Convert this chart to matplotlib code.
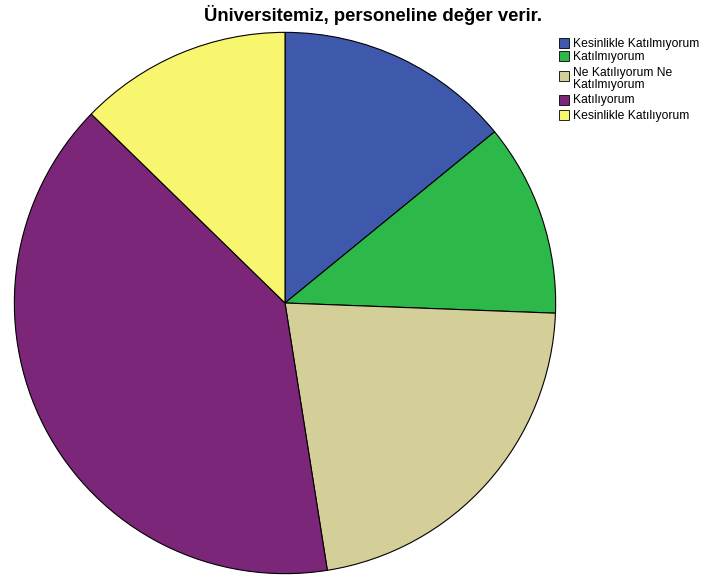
import matplotlib
matplotlib.use("Agg")
import matplotlib.pyplot as plt
from matplotlib.patches import Rectangle

labels = ["Kesinlikle Katılmıyorum", "Katılmıyorum", "Ne Katılıyorum Ne\nKatılmıyorum",
          "Katılıyorum", "Kesinlikle Katılıyorum"]
values = [14.1, 11.5, 21.9, 39.8, 12.7]
colors = ["#3e58ac", "#2db84a", "#d4ce99", "#7b2678", "#f8f56f"]
title = "Üniversitemiz, personeline değer verir."

W, H = 710, 575
fig = plt.figure(figsize=(W / 100, H / 100), dpi=100)
cx, cy, r = 285, 303, 272
ax = fig.add_axes([(cx - r) / W, (H - cy - r) / H, 2 * r / W, 2 * r / H])
ax.pie(values, colors=colors, startangle=90, counterclock=False,
       wedgeprops=dict(edgecolor="black", linewidth=0.8), radius=1)
ax.set_xlim(-1.005, 1.005)
ax.set_ylim(-1.005, 1.005)
ax.set_aspect("equal")
ax.axis("off")

fig.text(372.5 / W, 1 - 21 / H, title, ha="center", va="baseline",
         fontsize=13.3, fontweight="bold", family="Liberation Sans")

# legend drawn manually (positions in pixels)
box_tops = [38, 51, 71, 95, 110]
text_baselines = [47, 60, 76, 103, 119]
for lab, col, bt, tb in zip(labels, colors, box_tops, text_baselines):
    fig.add_artist(Rectangle((559 / W, 1 - (bt + 10) / H), 10 / W, 10 / H,
                             facecolor=col, edgecolor="black", linewidth=0.6,
                             transform=fig.transFigure))
    for i, line in enumerate(lab.split("\n")):
        fig.text(573 / W, 1 - (tb + 12 * i) / H, line, ha="left", va="baseline",
                 fontsize=8.7, family="Liberation Sans")

fig.savefig("out.png", dpi=100, facecolor="white")
